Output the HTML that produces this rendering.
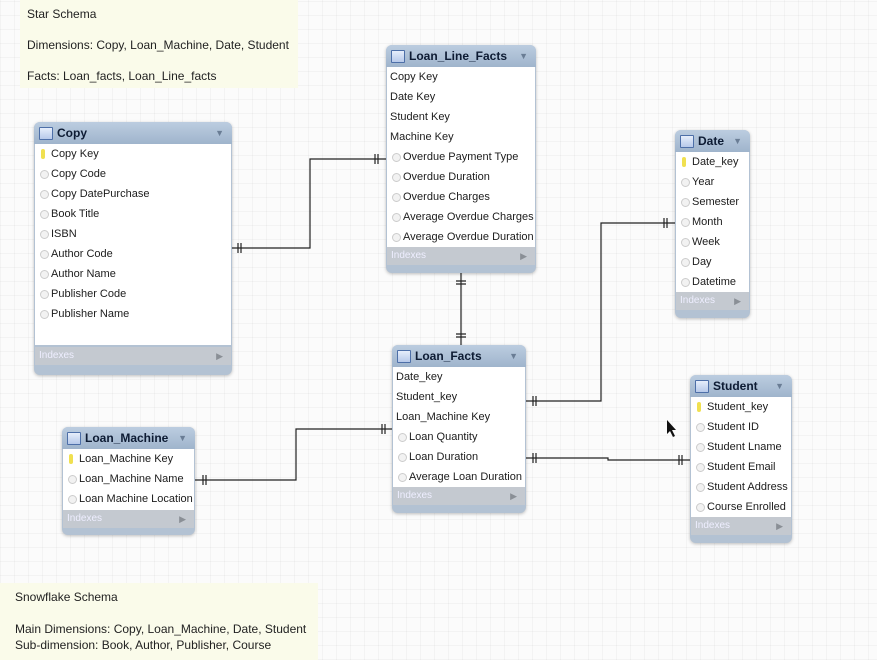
<!DOCTYPE html>
<html><head><meta charset="utf-8"><style>
*{margin:0;padding:0;box-sizing:border-box}
body{width:877px;height:660px;overflow:hidden;position:relative;font-family:"Liberation Sans",Arial,sans-serif;
background-color:#fbfbfb;
background-image:repeating-linear-gradient(0deg,rgba(0,0,0,0.03) 0 1px,transparent 1px 14px),repeating-linear-gradient(90deg,rgba(0,0,0,0.03) 0 1px,transparent 1px 14px);}
.note{position:absolute;background:#fafbea;font-size:12px;color:#222}
.t{position:absolute;border-radius:6px;background:#b3c2d3;box-shadow:0 1px 3px rgba(0,0,0,0.25)}
.h{position:absolute;left:0;right:0;top:0;height:22px;border-radius:6px 6px 0 0;background:linear-gradient(#bccde0,#9fb4cc);font-weight:bold;font-size:12px;color:#0d1b33;line-height:22px;padding-left:23px}
.h:before{content:"";position:absolute;left:5px;top:5px;width:12px;height:11px;border:1px solid #4d6fa8;background:linear-gradient(#e6eefb,#b7c9ea);border-radius:1px}
.h:after{content:"▼";position:absolute;right:8px;top:0;font-size:9px;color:#6a7d95}
.b{position:absolute;left:1px;right:1px;top:22px;background:#fff}
.r{position:absolute;left:0;right:0;height:20px;line-height:21px;font-size:11px;color:#1c1c1c;padding-left:16px;white-space:nowrap}
.r.n{padding-left:3px}
.r.k:before{content:"";position:absolute;left:6px;top:5px;width:4px;height:10px;background:#f0e050;border-radius:2px}
.r.o:before{content:"";position:absolute;left:5px;top:6px;width:7px;height:7px;border-radius:50%;border:1px solid #ccc;background:#f2f2f2}
.ix{position:absolute;left:1px;right:1px;height:18px;background:#c4c9d0;color:#eef;font-size:10px;line-height:18px;padding-left:4px}
.ix:after{content:"▶";position:absolute;right:8px;font-size:9px;color:#8a8f96}
svg{position:absolute;left:0;top:0}
</style></head><body>
<div class="note" style="left:20px;top:0;width:278px;height:88px;padding:7px 0 0 7px;line-height:15.5px">Star Schema<br><br>Dimensions: Copy, Loan_Machine, Date, Student<br><br>Facts: Loan_facts, Loan_Line_facts</div>
<div class="note" style="left:0;top:583px;width:318px;height:77px;padding:6px 0 0 15px;line-height:16px">Snowflake Schema<br><br>Main Dimensions: Copy, Loan_Machine, Date, Student<br>Sub-dimension: Book, Author, Publisher, Course</div>

<svg width="877" height="660" fill="none" stroke="#222" stroke-width="1.2">
<path d="M232 248H310V159H386"/><path d="M238 243v10M241 243v10M375 154v10M378 154v10"/>
<path d="M461 273V345"/><path d="M456 281h10M456 284h10M456 334h10M456 337h10"/>
<path d="M675 223H601V401H526"/><path d="M664 218v10M667 218v10M533 396v10M536 396v10"/>
<path d="M195 480H296V429H392"/><path d="M203 475v10M206 475v10M382 424v10M385 424v10"/>
<path d="M526 458H608V460H690"/><path d="M533 453v10M536 453v10M679 455v10M682 455v10"/>
<path d="M667 420l0 14 3-3 3 6 2-1-3-6 4 0z" fill="#111" stroke="none"/>
</svg>

<div class="t" style="left:34px;top:122px;width:198px;height:253px">
<div class="h">Copy</div>
<div class="b" style="height:201px">
<div class="r k" style="top:0">Copy Key</div><div class="r o" style="top:20px">Copy Code</div><div class="r o" style="top:40px">Copy DatePurchase</div><div class="r o" style="top:60px">Book Title</div><div class="r o" style="top:80px">ISBN</div><div class="r o" style="top:100px">Author Code</div><div class="r o" style="top:120px">Author Name</div><div class="r o" style="top:140px">Publisher Code</div><div class="r o" style="top:160px">Publisher Name</div>
</div><div class="ix" style="top:225px">Indexes</div></div>

<div class="t" style="left:386px;top:45px;width:150px;height:228px">
<div class="h">Loan_Line_Facts</div>
<div class="b" style="height:180px">
<div class="r n" style="top:0">Copy Key</div><div class="r n" style="top:20px">Date Key</div><div class="r n" style="top:40px">Student Key</div><div class="r n" style="top:60px">Machine Key</div><div class="r o" style="top:80px">Overdue Payment Type</div><div class="r o" style="top:100px">Overdue Duration</div><div class="r o" style="top:120px">Overdue Charges</div><div class="r o" style="top:140px">Average Overdue Charges</div><div class="r o" style="top:160px">Average Overdue Duration</div>
</div><div class="ix" style="top:202px">Indexes</div></div>

<div class="t" style="left:675px;top:130px;width:75px;height:188px">
<div class="h">Date</div>
<div class="b" style="height:140px">
<div class="r k" style="top:0">Date_key</div><div class="r o" style="top:20px">Year</div><div class="r o" style="top:40px">Semester</div><div class="r o" style="top:60px">Month</div><div class="r o" style="top:80px">Week</div><div class="r o" style="top:100px">Day</div><div class="r o" style="top:120px">Datetime</div>
</div><div class="ix" style="top:162px">Indexes</div></div>

<div class="t" style="left:392px;top:345px;width:134px;height:168px">
<div class="h">Loan_Facts</div>
<div class="b" style="height:120px">
<div class="r n" style="top:0">Date_key</div><div class="r n" style="top:20px">Student_key</div><div class="r n" style="top:40px">Loan_Machine Key</div><div class="r o" style="top:60px">Loan Quantity</div><div class="r o" style="top:80px">Loan Duration</div><div class="r o" style="top:100px">Average Loan Duration</div>
</div><div class="ix" style="top:142px">Indexes</div></div>

<div class="t" style="left:62px;top:427px;width:133px;height:108px">
<div class="h">Loan_Machine</div>
<div class="b" style="height:62px">
<div class="r k" style="top:0">Loan_Machine Key</div><div class="r o" style="top:20px">Loan_Machine Name</div><div class="r o" style="top:40px">Loan Machine Location</div>
</div><div class="ix" style="top:83px">Indexes</div></div>

<div class="t" style="left:690px;top:375px;width:102px;height:168px">
<div class="h">Student</div>
<div class="b" style="height:120px">
<div class="r k" style="top:0">Student_key</div><div class="r o" style="top:20px">Student ID</div><div class="r o" style="top:40px">Student Lname</div><div class="r o" style="top:60px">Student Email</div><div class="r o" style="top:80px">Student Address</div><div class="r o" style="top:100px">Course Enrolled</div>
</div><div class="ix" style="top:142px">Indexes</div></div>
</body></html>
